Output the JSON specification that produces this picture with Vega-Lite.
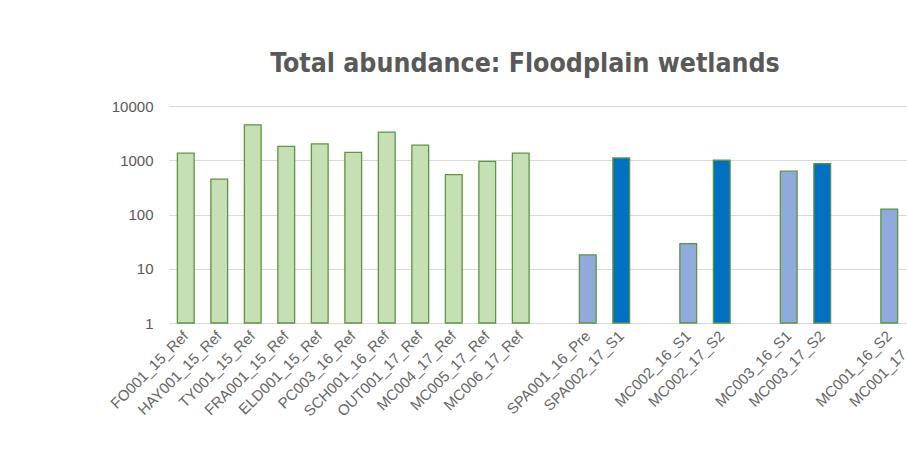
{
  "$schema": "https://vega.github.io/schema/vega-lite/v6.json",
  "autosize": {"type": "none"},
  "padding": {"left": 169, "top": 106, "right": 0, "bottom": 131},
  "width": 738,
  "height": 217,
  "background": "white",
  "title": {
    "text": "Total abundance: Floodplain wetlands",
    "font": "DejaVu Sans Condensed, Open Sans, Liberation Sans",
    "fontSize": 26.5,
    "fontWeight": "bold",
    "color": "#595959",
    "anchor": "middle",
    "dx": -13,
    "offset": 22
  },
  "data": {
    "values": [
      {"site": "FO001_15_Ref", "abundance": 1350, "group": "Reference"},
      {"site": "HAY001_15_Ref", "abundance": 450, "group": "Reference"},
      {"site": "TY001_15_Ref", "abundance": 4500, "group": "Reference"},
      {"site": "FRA001_15_Ref", "abundance": 1800, "group": "Reference"},
      {"site": "ELD001_15_Ref", "abundance": 2000, "group": "Reference"},
      {"site": "PC003_16_Ref", "abundance": 1400, "group": "Reference"},
      {"site": "SCH001_16_Ref", "abundance": 3300, "group": "Reference"},
      {"site": "OUT001_17_Ref", "abundance": 1900, "group": "Reference"},
      {"site": "MC004_17_Ref", "abundance": 545, "group": "Reference"},
      {"site": "MC005_17_Ref", "abundance": 950, "group": "Reference"},
      {"site": "MC006_17_Ref", "abundance": 1350, "group": "Reference"},
      {"site": "SPA001_16_Pre", "abundance": 18, "group": "2016"},
      {"site": "SPA002_17_S1", "abundance": 1100, "group": "2017"},
      {"site": "MC002_16_S1", "abundance": 29, "group": "2016"},
      {"site": "MC002_17_S2", "abundance": 1000, "group": "2017"},
      {"site": "MC003_16_S1", "abundance": 630, "group": "2016"},
      {"site": "MC003_17_S2", "abundance": 870, "group": "2017"},
      {"site": "MC001_16_S2", "abundance": 126, "group": "2016"},
      {"site": "MC001_17_S3", "abundance": 900, "group": "2017"}
    ]
  },
  "mark": {"type": "bar", "stroke": "#5f9442", "strokeWidth": 1.3},
  "encoding": {
    "x": {
      "field": "site",
      "type": "nominal",
      "sort": null,
      "scale": {
        "domain": ["FO001_15_Ref", "HAY001_15_Ref", "TY001_15_Ref", "FRA001_15_Ref", "ELD001_15_Ref", "PC003_16_Ref", "SCH001_16_Ref", "OUT001_17_Ref", "MC004_17_Ref", "MC005_17_Ref", "MC006_17_Ref", " ", "SPA001_16_Pre", "SPA002_17_S1", "  ", "MC002_16_S1", "MC002_17_S2", "   ", "MC003_16_S1", "MC003_17_S2", "    ", "MC001_16_S2", "MC001_17_S3", "     "],
        "range": [0, 804],
        "paddingInner": 0.5,
        "paddingOuter": 0.25
      },
      "axis": {
        "title": null,
        "labelAngle": -45,
        "labelAlign": "right",
        "labelBaseline": "middle",
        "labelPadding": 10,
        "labelFont": "Liberation Sans",
        "labelFontSize": 15,
        "labelColor": "#666666",
        "ticks": false,
        "domainColor": "#d9d9d9",
        "labelOverlap": false
      }
    },
    "y": {
      "field": "abundance",
      "type": "quantitative",
      "scale": {"type": "log", "domain": [1, 10000], "nice": false},
      "axis": {
        "title": null,
        "values": [1, 10, 100, 1000, 10000],
        "format": "d",
        "domain": false,
        "ticks": false,
        "labelPadding": 16,
        "labelFont": "Liberation Sans",
        "labelFontSize": 15,
        "labelColor": "#595959",
        "gridColor": "#d9d9d9",
        "gridWidth": 1
      }
    },
    "y2": {"datum": 1},
    "color": {
      "field": "group",
      "type": "nominal",
      "scale": {"domain": ["Reference", "2016", "2017"], "range": ["#c5e0b4", "#8faadc", "#0070c0"]},
      "legend": null
    }
  },
  "config": {"view": {"stroke": null}}
}
